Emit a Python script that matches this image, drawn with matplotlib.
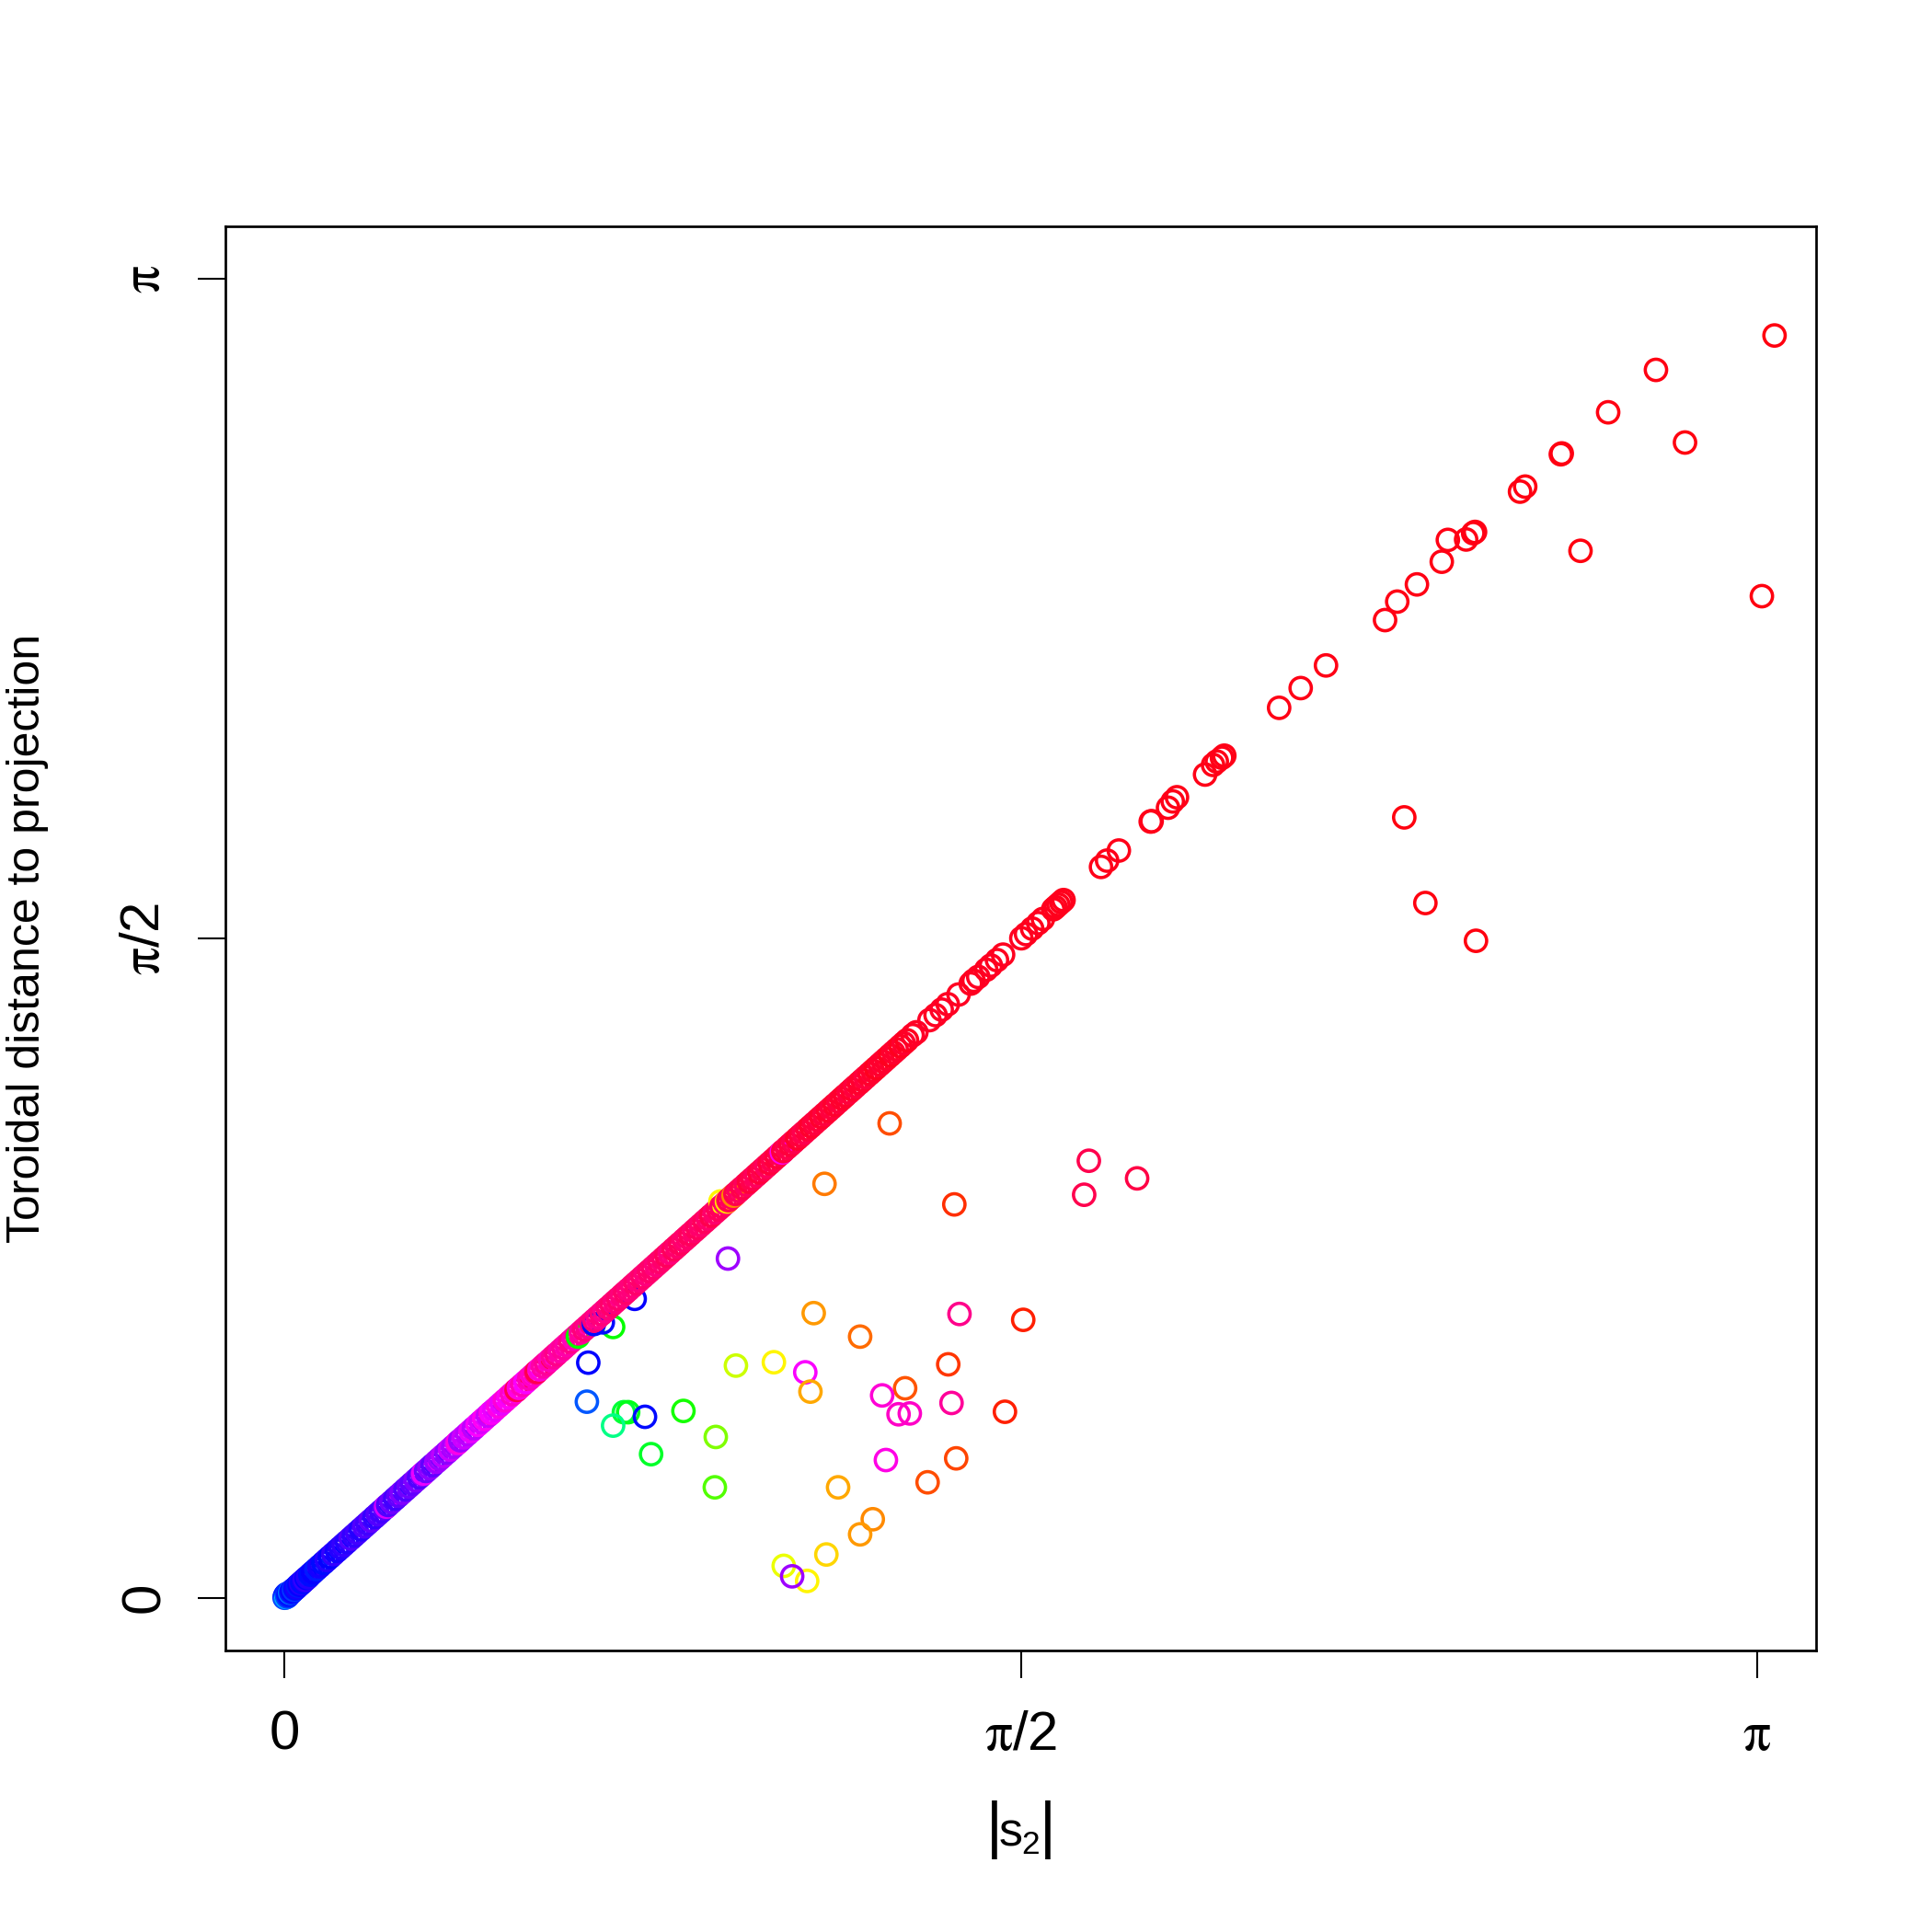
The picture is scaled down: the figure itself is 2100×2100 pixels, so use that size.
import numpy as np
import matplotlib
matplotlib.use("Agg")
import matplotlib.pyplot as plt
from matplotlib.colors import hsv_to_rgb

plt.rcParams['font.family'] = ['Liberation Sans', 'DejaVu Sans']
plt.rcParams['mathtext.fontset'] = 'stix'

# ---------------- data ----------------
# dense cluster of points at the origin
blob_s2 = [0.000, 0.001, 0.002, 0.003, 0.004, 0.005, 0.006, 0.008, 0.010, 0.012,
           0.014, 0.016, 0.018, 0.020, 0.023, 0.026, 0.029, 0.032, 0.035, 0.038,
           0.041, 0.044, 0.047, 0.050]
blob_dist = [0.000, 0.004, 0.001, 0.007, 0.002, 0.009, 0.003, 0.006, 0.010, 0.012,
             0.013, 0.015, 0.018, 0.019, 0.022, 0.025, 0.029, 0.031, 0.035, 0.037,
             0.041, 0.043, 0.047, 0.049]
blob_hue = [0.63, 0.64, 0.60, 0.66, 0.55, 0.64, 0.62, 0.65, 0.66, 0.58,
            0.64, 0.66, 0.67, 0.63, 0.66, 0.68, 0.65, 0.67, 0.69, 0.66,
            0.68, 0.70, 0.67, 0.69]

# points along the diagonal band
band_s2 = [
    0.055, 0.061, 0.068, 0.075, 0.083, 0.090, 0.097, 0.104, 0.112, 0.119,
    0.126, 0.133, 0.141, 0.148, 0.155, 0.163, 0.170, 0.177, 0.184, 0.192,
    0.199, 0.206, 0.214, 0.217, 0.221, 0.228, 0.236, 0.243, 0.250, 0.258,
    0.265, 0.272, 0.280, 0.287, 0.294, 0.296, 0.302, 0.309, 0.316, 0.324,
    0.331, 0.338, 0.346, 0.353, 0.360, 0.368, 0.370, 0.375, 0.382, 0.390,
    0.397, 0.404, 0.412, 0.419, 0.426, 0.434, 0.440, 0.441, 0.448, 0.456,
    0.463, 0.470, 0.478, 0.485, 0.492, 0.495, 0.500, 0.507, 0.514, 0.522,
    0.529, 0.536, 0.538, 0.544, 0.551, 0.558, 0.566, 0.573, 0.580, 0.588,
    0.595, 0.602, 0.610, 0.617, 0.624, 0.626, 0.632, 0.639, 0.646, 0.654,
    0.660, 0.661, 0.668, 0.676, 0.683, 0.690, 0.698, 0.705, 0.712, 0.720,
    0.727, 0.734, 0.742, 0.749, 0.756, 0.764, 0.771, 0.778, 0.786, 0.793,
    0.800, 0.808, 0.815, 0.822, 0.830, 0.837, 0.844, 0.852, 0.859, 0.866,
    0.874, 0.881, 0.888, 0.896, 0.903, 0.910, 0.918, 0.925, 0.930, 0.932,
    0.940, 0.944, 0.947, 0.954, 0.958, 0.962, 0.969, 0.976, 0.984, 0.991,
    0.998, 1.006, 1.013, 1.020, 1.028, 1.035, 1.042, 1.050, 1.057, 1.061,
    1.064, 1.072, 1.079, 1.086, 1.094, 1.101, 1.108, 1.116, 1.123, 1.130,
    1.138, 1.145, 1.152, 1.160, 1.167, 1.174, 1.182, 1.189, 1.196, 1.204,
    1.211, 1.218, 1.226, 1.233, 1.240, 1.248, 1.255, 1.262, 1.270, 1.277,
    1.284, 1.292, 1.299, 1.306, 1.314, 1.321, 1.328]
band_dist = [
    0.055, 0.061, 0.068, 0.075, 0.083, 0.090, 0.097, 0.104, 0.112, 0.119,
    0.126, 0.133, 0.141, 0.148, 0.155, 0.163, 0.170, 0.177, 0.184, 0.192,
    0.199, 0.206, 0.214, 0.217, 0.221, 0.228, 0.236, 0.243, 0.250, 0.258,
    0.265, 0.272, 0.280, 0.287, 0.294, 0.296, 0.302, 0.309, 0.316, 0.324,
    0.331, 0.338, 0.346, 0.353, 0.360, 0.368, 0.370, 0.375, 0.382, 0.390,
    0.397, 0.404, 0.412, 0.419, 0.426, 0.434, 0.440, 0.441, 0.448, 0.456,
    0.463, 0.470, 0.478, 0.485, 0.492, 0.495, 0.500, 0.507, 0.514, 0.522,
    0.529, 0.536, 0.538, 0.544, 0.551, 0.558, 0.566, 0.573, 0.580, 0.588,
    0.595, 0.602, 0.610, 0.617, 0.624, 0.622, 0.632, 0.639, 0.646, 0.654,
    0.652, 0.661, 0.668, 0.676, 0.683, 0.690, 0.698, 0.705, 0.712, 0.720,
    0.727, 0.734, 0.742, 0.749, 0.756, 0.764, 0.771, 0.778, 0.786, 0.793,
    0.800, 0.808, 0.815, 0.822, 0.830, 0.837, 0.844, 0.852, 0.859, 0.866,
    0.874, 0.881, 0.888, 0.896, 0.903, 0.910, 0.918, 0.925, 0.944, 0.932,
    0.940, 0.944, 0.947, 0.954, 0.958, 0.962, 0.969, 0.976, 0.984, 0.991,
    0.998, 1.006, 1.013, 1.020, 1.028, 1.035, 1.042, 1.050, 1.057, 1.061,
    1.064, 1.072, 1.079, 1.086, 1.094, 1.101, 1.108, 1.116, 1.123, 1.130,
    1.138, 1.145, 1.152, 1.160, 1.167, 1.174, 1.182, 1.189, 1.196, 1.204,
    1.211, 1.218, 1.226, 1.233, 1.240, 1.248, 1.255, 1.262, 1.270, 1.277,
    1.284, 1.292, 1.299, 1.306, 1.314, 1.321, 1.328]
band_hue = [
    0.66, 0.67, 0.65, 0.68, 0.66, 0.69, 0.67, 0.70, 0.68, 0.69,
    0.70, 0.69, 0.72, 0.70, 0.71, 0.69, 0.72, 0.71, 0.73, 0.70,
    0.72, 0.71, 0.73, 0.81, 0.72, 0.74, 0.71, 0.73, 0.75, 0.72,
    0.74, 0.73, 0.75, 0.72, 0.76, 0.82, 0.74, 0.76, 0.73, 0.77,
    0.77, 0.79, 0.76, 0.80, 0.78, 0.81, 0.85, 0.77, 0.80, 0.79,
    0.82, 0.79, 0.83, 0.81, 0.84, 0.80, 0.87, 0.83, 0.82, 0.85,
    0.82, 0.86, 0.84, 0.87, 0.85, 0.95, 0.85, 0.88, 0.83, 0.88,
    0.87, 0.89, 0.95, 0.86, 0.89, 0.90, 0.88, 0.90, 0.91, 0.89,
    0.90, 0.89, 0.91, 0.88, 0.91, 0.33, 0.90, 0.92, 0.91, 0.92,
    0.66, 0.92, 0.91, 0.92, 0.91, 0.92, 0.93, 0.92, 0.93, 0.92,
    0.93, 0.92, 0.92, 0.93, 0.92, 0.93, 0.92, 0.93, 0.93, 0.92,
    0.93, 0.93, 0.94, 0.92, 0.94, 0.93, 0.94, 0.93, 0.93, 0.94,
    0.93, 0.94, 0.93, 0.94, 0.93, 0.95, 0.93, 0.94, 0.16, 0.94,
    0.93, 0.15, 0.95, 0.94, 0.09, 0.95, 0.94, 0.95, 0.94, 0.96,
    0.95, 0.94, 0.96, 0.95, 0.94, 0.96, 0.95, 0.96, 0.95, 0.84,
    0.96, 0.95, 0.96, 0.95, 0.97, 0.96, 0.95, 0.96, 0.97, 0.96,
    0.96, 0.97, 0.96, 0.97, 0.96, 0.97, 0.96, 0.97, 0.97, 0.96,
    0.97, 0.96, 0.97, 0.97, 0.96, 0.97, 0.97, 0.98, 0.97, 0.97,
    0.97, 0.98, 0.97, 0.97, 0.98, 0.97, 0.98]

# sparser red points on the diagonal beyond |s2| ~ 1.33
upper_s2 = [1.340, 1.348, 1.376, 1.389, 1.402, 1.415, 1.438, 1.464, 1.470, 1.480,
            1.497, 1.507, 1.520, 1.533, 1.572, 1.582, 1.595, 1.608, 1.618, 1.640,
            1.645, 1.651, 1.657, 1.662, 1.742, 1.755, 1.780, 1.848, 1.850, 1.885,
            1.895, 1.904, 1.964, 1.981, 1.989, 2.000, 2.005, 2.122, 2.168, 2.222,
            2.348, 2.374, 2.416, 2.469, 2.482, 2.521, 2.536, 2.540, 2.636, 2.647,
            2.723, 2.725, 2.824, 2.926]
upper_dist = [1.340, 1.347, 1.376, 1.388, 1.401, 1.414, 1.437, 1.463, 1.470, 1.479,
              1.496, 1.506, 1.519, 1.532, 1.571, 1.581, 1.594, 1.607, 1.617, 1.640,
              1.645, 1.651, 1.657, 1.662, 1.741, 1.756, 1.780, 1.849, 1.850, 1.882,
              1.897, 1.907, 1.961, 1.984, 1.992, 2.001, 2.006, 2.120, 2.167, 2.221,
              2.329, 2.373, 2.414, 2.468, 2.520, 2.521, 2.536, 2.539, 2.635, 2.647,
              2.724, 2.726, 2.824, 2.925]
upper_hue = [0.975, 0.975, 0.975, 0.978, 0.975, 0.978, 0.978, 0.978, 0.980, 0.978,
             0.980, 0.978, 0.980, 0.980, 0.980, 0.980, 0.982, 0.980, 0.982, 0.982,
             0.982, 0.982, 0.982, 0.982, 0.984, 0.984, 0.984, 0.984, 0.984, 0.985,
             0.985, 0.985, 0.985, 0.985, 0.985, 0.985, 0.985, 0.986, 0.986, 0.986,
             0.987, 0.987, 0.987, 0.987, 0.987, 0.987, 0.987, 0.987, 0.988, 0.988,
             0.988, 0.988, 0.988, 0.988]

# points away from the diagonal
off_s2 = [0.946, 0.747, 0.701, 0.679, 0.648, 0.645, 0.724, 0.733, 0.701, 0.769,
          0.851, 0.782, 0.920, 0.918, 0.963, 1.044, 1.111, 1.122, 1.129, 1.228,
          1.440, 1.576, 1.416, 1.324, 1.275, 1.310, 1.334, 1.423, 1.537, 1.283,
          1.433, 1.372, 1.181, 1.255, 1.228, 1.156, 1.065, 1.115, 1.083, 1.291,
          1.152, 1.429, 1.716, 1.706, 1.819, 2.389, 2.434, 2.542, 2.765, 2.988,
          3.152, 3.179]
off_dist = [0.808, 0.712, 0.645, 0.656, 0.560, 0.467, 0.442, 0.442, 0.410, 0.431,
            0.445, 0.342, 0.383, 0.263, 0.553, 0.561, 0.537, 0.491, 0.678, 0.622,
            0.676, 0.662, 0.556, 0.499, 0.482, 0.437, 0.439, 0.464, 0.443, 0.328,
            0.332, 0.275, 0.263, 0.187, 0.151, 0.103, 0.076, 0.040, 0.051, 1.130,
            0.986, 0.937, 1.041, 0.960, 0.999, 1.859, 1.655, 1.565, 2.494, 2.752,
            2.386, 3.007]
off_hue = [0.77, 0.67, 0.33, 0.66, 0.665, 0.61, 0.37, 0.35, 0.42, 0.66,
           0.32, 0.36, 0.25, 0.28, 0.20, 0.16, 0.83, 0.11, 0.10, 0.07,
           0.91, 0.02, 0.035, 0.055, 0.86, 0.87, 0.87, 0.90, 0.02, 0.85,
           0.045, 0.05, 0.11, 0.09, 0.10, 0.14, 0.18, 0.16, 0.77, 0.05,
           0.08, 0.03, 0.95, 0.95, 0.955, 0.99, 0.99, 0.99, 0.99, 0.99,
           0.99, 0.99]

tick_values = [0, np.pi / 2, np.pi]
tick_labels = ['0', r'$\mathrm{\pi}$/2', r'$\mathrm{\pi}$']
y_label = 'Toroidal distance to projection'


def hue_colors(h):
    h = np.asarray(h, float)
    one = np.ones_like(h)
    return hsv_to_rgb(np.stack([h, one, one], axis=1))


# ---------------- figure ----------------
W = 2100.0
fig = plt.figure(figsize=(7, 7), dpi=300)
left, right, top, bottom = 245.3, 1973.8, 245.9, 1794.0
ax = fig.add_axes([left / W, 1 - bottom / W, (right - left) / W, (bottom - top) / W])

lo, hi = -0.04 * np.pi, 1.04 * np.pi
ax.set_xlim(lo, hi)
ax.set_ylim(lo, hi)

S = 31
LW = 0.85
ax.scatter(off_s2, off_dist, s=S, facecolors='none',
           edgecolors=hue_colors(off_hue), linewidths=LW, zorder=2)
ax.scatter(blob_s2, blob_dist, s=S, facecolors='none',
           edgecolors=hue_colors(blob_hue), linewidths=LW, zorder=3)
ax.scatter(band_s2, band_dist, s=S, facecolors='none',
           edgecolors=hue_colors(band_hue), linewidths=LW, zorder=3)
ax.scatter(upper_s2, upper_dist, s=S, facecolors='none',
           edgecolors=hue_colors(upper_hue), linewidths=LW, zorder=3)

for sp in ax.spines.values():
    sp.set_linewidth(0.65)
    sp.set_color('black')

ax.set_xticks(tick_values)
ax.set_xticklabels(tick_labels)
ax.set_yticks(tick_values)
ax.set_yticklabels(tick_labels)
ax.tick_params(direction='out', length=7.2, width=0.5, labelsize=14.4, colors='black')
ax.tick_params(axis='x', pad=18.7)
ax.tick_params(axis='y', pad=10.1)
for t in ax.get_xticklabels():
    t.set_va('baseline')
for t in ax.get_yticklabels():
    t.set_rotation(90)
    t.set_rotation_mode('anchor')
    t.set_ha('center')
    t.set_va('baseline')

# x label |s_2| composed of pieces (bars taller than the letter, small subscript)
base = 1 - 2006.7 / W
fig.text(1080.5 / W, base, '|', ha='center', va='baseline', fontsize=16.6)
fig.text(1098.5 / W, base, 's', ha='center', va='baseline', fontsize=12.5)
fig.text(1120.0 / W, 1 - 2015.0 / W, '2', ha='center', va='baseline', fontsize=8.5)
fig.text(1138.5 / W, base, '|', ha='center', va='baseline', fontsize=16.6)

fig.text(43.3 / W, 1 - 1020.0 / W, y_label, rotation=90, rotation_mode='anchor',
         ha='center', va='baseline', fontsize=12)

fig.savefig('out.png', dpi=300, facecolor='white')
